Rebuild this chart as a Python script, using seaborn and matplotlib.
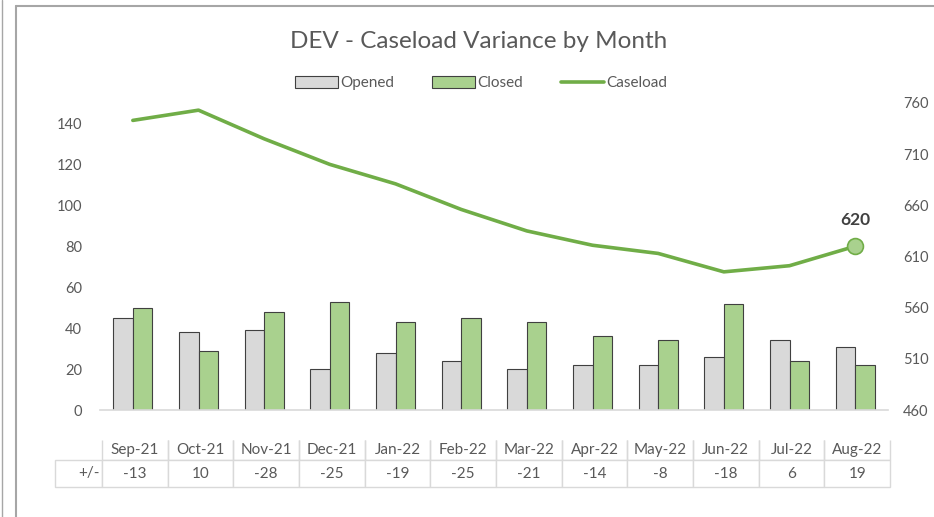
import numpy as np
import pandas as pd
import matplotlib
matplotlib.use("Agg")
import matplotlib.pyplot as plt
from matplotlib.lines import Line2D
import seaborn as sns

# ---- data ----
months = ["Sep-21", "Oct-21", "Nov-21", "Dec-21", "Jan-22", "Feb-22",
          "Mar-22", "Apr-22", "May-22", "Jun-22", "Jul-22", "Aug-22"]
opened = [45, 38, 39, 20, 28, 24, 20, 22, 22, 26, 34, 31]
closed = [50, 29, 48, 53, 43, 45, 43, 36, 34, 52, 24, 22]
caseload = [743, 753, 725, 700, 681, 656, 635, 621, 613, 595, 601, 620]
variance = ["-13", "10", "-28", "-25", "-19", "-25", "-21", "-14", "-8", "-18", "6", "19"]
left_ticks = [0, 20, 40, 60, 80, 100, 120, 140]
right_ticks = [460, 510, 560, 610, 660, 710, 760]

sns.set_style("white")
plt.rcParams["font.family"] = ["Lato", "DejaVu Sans"]

TXT = "#595959"
GRID = "#d9d9d9"
GREEN = "#70ad47"

fig = plt.figure(figsize=(9.34, 5.17), dpi=100)
ax = fig.add_axes([100/934, 1-410/517, 788/934, 307/517])

df = pd.DataFrame({
    "Month": months * 2,
    "Series": ["Opened"] * len(months) + ["Closed"] * len(months),
    "Value": opened + closed,
})
sns.barplot(data=df, x="Month", y="Value", hue="Series", order=months,
            hue_order=["Opened", "Closed"],
            palette={"Opened": "#d9d9d9", "Closed": "#a9d18e"},
            width=0.59, gap=0, saturation=1, edgecolor="#404040",
            linewidth=0.8, ax=ax)

ax.set_xlim(-0.5, len(months) - 0.5)
ax.set_ylim(0, 150)
ax.set_yticks(left_ticks)
ax.set_xlabel("")
ax.set_ylabel("")
ax.set_xticks(np.arange(-0.5, len(months), 1.0))
ax.set_xticklabels([])
ax.tick_params(axis="x", length=6, color=GRID, width=1, direction="out")
ax.tick_params(axis="y", length=0, labelsize=10.5, labelcolor=TXT, pad=13)
for s in ["top", "right", "left"]:
    ax.spines[s].set_visible(False)
ax.spines["bottom"].set_color(GRID)
ax.spines["bottom"].set_linewidth(1.2)

ax2 = ax.twinx()
xpos = np.arange(len(months))
sns.lineplot(x=xpos, y=caseload, ax=ax2, color=GREEN, linewidth=2.6,
             label="Caseload")
sns.scatterplot(x=[xpos[-1]], y=[caseload[-1]], ax=ax2, s=130,
                color="#a9d18e", edgecolor=GREEN, linewidth=1.2, zorder=5)
ax2.annotate(f"{caseload[-1]}", (xpos[-1], caseload[-1]), xytext=(0, 19),
             textcoords="offset points", ha="center", va="center",
             fontsize=12.5, fontweight="bold", color="#404040")
ax2.set_xlim(-0.5, len(months) - 0.5)
ax2.set_ylim(460, 760)
ax2.set_yticks(right_ticks)
ax2.set_ylabel("")
ax2.tick_params(axis="y", length=0, labelsize=10.5, labelcolor=TXT, pad=11)
for s in ["top", "right", "left", "bottom"]:
    ax2.spines[s].set_visible(False)

# legend
h1, l1 = ax.get_legend_handles_labels()
h2, l2 = ax2.get_legend_handles_labels()
if ax.get_legend():
    ax.get_legend().remove()
if ax2.get_legend():
    ax2.get_legend().remove()
handles = h1 + [h for h, l in zip(h2, l2) if l == "Caseload"]
labels = l1 + ["Caseload"]
fig.legend(handles, labels, loc="center", bbox_to_anchor=(0.515, 1-83/517),
           ncol=3, frameon=False, fontsize=11, handlelength=2.8,
           handleheight=0.85, handletextpad=0.15, columnspacing=2.5,
           labelcolor=TXT)

fig.text(0.512, 1-41/517, "DEV - Caseload Variance by Month", ha="center",
         va="center", fontsize=17.5, color=TXT)

# data table
ncol = len(months)
first_w = 47.0
data_w = 788.0 / ncol
tot_w = first_w + 788.0
cell_text = [[""] + months, ["+/-"] + variance]
col_w = [first_w / tot_w] + [data_w / tot_w] * ncol
tbl = ax.table(cellText=cell_text, colWidths=col_w,
               bbox=[(55-100)/788, (410-487)/307, tot_w/788, 47/307],
               cellLoc="center")
tbl.auto_set_font_size(False)
tbl.set_fontsize(11)
for (r, c), cell in tbl.get_celld().items():
    cell.set_edgecolor(GRID)
    cell.set_linewidth(1.0)
    cell.get_text().set_color(TXT)
    cell.set_height(20/47 if r == 0 else 27/47)
    if r == 0:
        cell.visible_edges = "" if c == 0 else "BLR"
    else:
        cell.visible_edges = "closed"
    if r == 1 and c == 0:
        cell.get_text().set_ha("right")
        cell._loc = "right"
        cell.PAD = 0.05

# outer frame lines
fig.add_artist(Line2D([2/934, 2/934], [0, 1], transform=fig.transFigure,
                      color="#a6a6a6", linewidth=1.0))
fig.add_artist(Line2D([15.5/934, 15.5/934], [0, 1-5.5/517],
                      transform=fig.transFigure, color="#a6a6a6", linewidth=1.5))
fig.add_artist(Line2D([15.5/934, 1], [1-5.5/517, 1-5.5/517],
                      transform=fig.transFigure, color="#a6a6a6", linewidth=1.5))

fig.savefig("out.png", dpi=100)
